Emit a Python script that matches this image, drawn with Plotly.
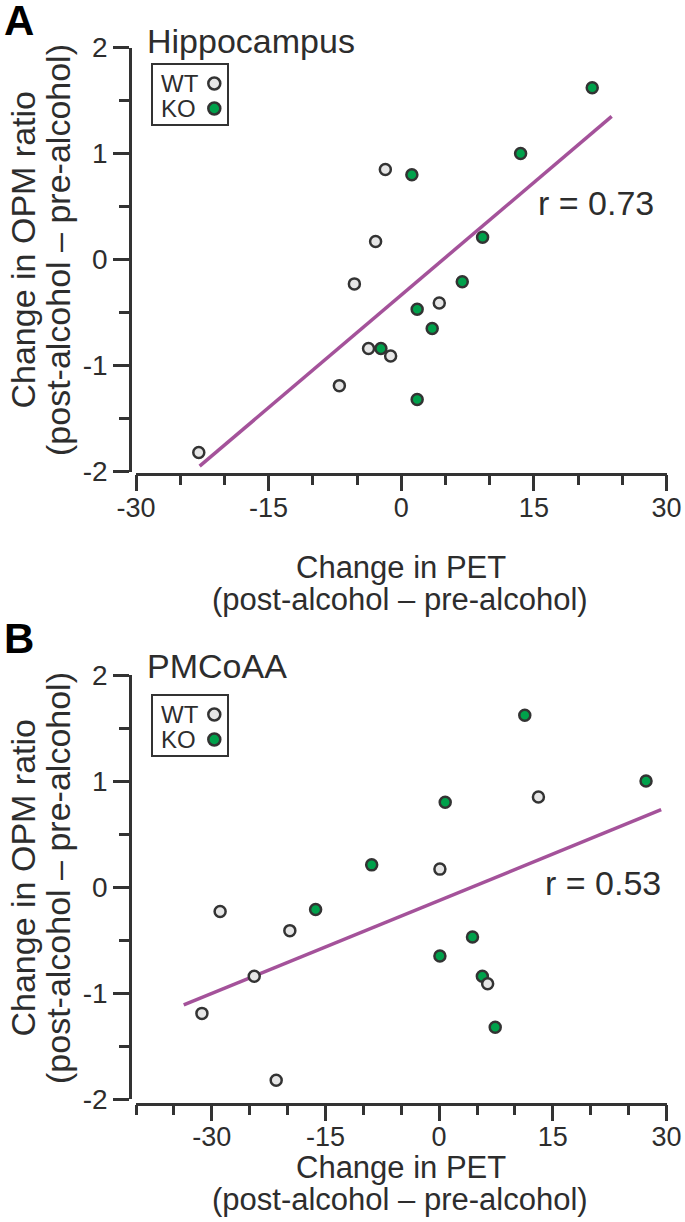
import plotly.graph_objects as go

W, H = 685, 1222

# ---------------- data ----------------
opm_wt = [0.85, 0.17, -0.23, -0.41, -0.84, -0.91, -1.19, -1.82]
opm_ko = [1.62, 1.00, 0.80, 0.21, -0.21, -0.47, -0.65, -0.84, -1.32]

pet_hippo_wt = [-1.8, -2.9, -5.3, 4.3, -3.7, -1.2, -7.0, -22.9]
pet_hippo_ko = [21.6, 13.5, 1.2, 9.2, 6.9, 1.8, 3.5, -2.3, 1.8]

pet_pmcoaa_wt = [13.1, 0.1, -28.9, -19.7, -24.4, 6.4, -31.3, -21.5]
pet_pmcoaa_ko = [11.3, 27.3, 0.8, -8.9, -16.3, 4.4, 0.1, 5.7, 7.4]

fit_hippo_x = [-22.8, 23.8]
fit_hippo_y = [-1.95, 1.35]
fit_pmcoaa_x = [-33.7, 29.3]
fit_pmcoaa_y = [-1.11, 0.73]

r_hippo = 0.73
r_pmcoaa = 0.53

x_ticks = [-30, -15, 0, 15, 30]
x_minor_hippo = [-25, -20, -10, -5, 5, 10, 20, 25]
x_minor_pmcoaa = [-40, -35, -25, -20, -10, -5, 5, 10, 20, 25]
y_ticks = [-2, -1, 0, 1, 2]
y_minor = [-1.5, -0.5, 0.5, 1.5]

region_names = ["Hippocampus", "PMCoAA"]
panel_letters = ["A", "B"]
group_names = ["WT", "KO"]

# ---------------- style ----------------
FONT = "Liberation Sans, Arial, Helvetica, sans-serif"
TXT = "#2d2d2d"
AX = "#333333"
WT_FILL = "#e6e6e6"
KO_FILL = "#00a14b"
FIT = "#a4529a"


def px(x):
    return x / W


def py(y):
    return 1 - y / H


fig = go.Figure()

panels = [
    dict(xa="x", ya="y", wt=pet_hippo_wt, ko=pet_hippo_ko, fx=fit_hippo_x, fy=fit_hippo_y),
    dict(xa="x2", ya="y2", wt=pet_pmcoaa_wt, ko=pet_pmcoaa_ko, fx=fit_pmcoaa_x, fy=fit_pmcoaa_y),
]

for p in panels:
    fig.add_trace(go.Scatter(x=p["fx"], y=p["fy"], mode="lines", xaxis=p["xa"], yaxis=p["ya"],
                             line=dict(color=FIT, width=3.5), showlegend=False, hoverinfo="skip"))
    fig.add_trace(go.Scatter(x=p["ko"], y=opm_ko, mode="markers", xaxis=p["xa"], yaxis=p["ya"],
                             name="KO", showlegend=False,
                             marker=dict(size=11, color=KO_FILL, line=dict(color=AX, width=2.5))))
    fig.add_trace(go.Scatter(x=p["wt"], y=opm_wt, mode="markers", xaxis=p["xa"], yaxis=p["ya"],
                             name="WT", showlegend=False,
                             marker=dict(size=11, color=WT_FILL, line=dict(color=AX, width=2.5))))


def xaxis_style(rng, minor_vals, pos):
    return dict(
        domain=[px(136), px(666.5)], range=rng, anchor="free", position=pos,
        showline=True, linecolor=AX, linewidth=2.5,
        ticks="outside", ticklen=16, tickwidth=2.5, tickcolor=AX,
        tickmode="array", tickvals=x_ticks, ticktext=[str(v) for v in x_ticks],
        tickfont=dict(family=FONT, size=27, color=TXT),
        minor=dict(tickmode="array", tickvals=minor_vals, ticks="outside", ticklen=10,
                   tickwidth=2.5, tickcolor=AX, showgrid=False),
        showgrid=False, zeroline=False, fixedrange=True,
    )


def yaxis_style(top_px, bot_px):
    return dict(
        domain=[py(bot_px), py(top_px)], range=[-2, 2], anchor="free", position=px(130),
        showline=True, linecolor=AX, linewidth=2.5,
        ticks="outside", ticklen=16, tickwidth=2.5, tickcolor=AX,
        tickmode="array", tickvals=y_ticks, ticktext=[str(v) for v in y_ticks],
        tickfont=dict(family=FONT, size=28, color=TXT),
        minor=dict(tickmode="array", tickvals=y_minor, ticks="outside", ticklen=10,
                   tickwidth=2.5, tickcolor=AX, showgrid=False),
        showgrid=False, zeroline=False, fixedrange=True,
    )


annotations = []
shapes = []

# panel geometry (pixel positions)
geo = [
    dict(ytop=47.5, ybot=471.5, xline=473.5, title_y=40.8, r_x=536, r_y=203,
         xt1=567, xt2=599, yt=250, leg_top=64, letter_y=21),
    dict(ytop=675, ybot=1099.3, xline=1103.5, title_y=665.5, r_x=543, r_y=882.5,
         xt1=1167.5, xt2=1199, yt=878, leg_top=695, letter_y=638),
]
r_vals = [r_hippo, r_pmcoaa]

for i, g in enumerate(geo):
    # panel letter
    annotations.append(dict(text=panel_letters[i], x=px(3), y=py(g["letter_y"]), xref="paper", yref="paper",
                            xanchor="left", yanchor="middle", showarrow=False, borderpad=0,
                            font=dict(family=FONT, size=42, color="#000000", weight="bold")))
    # region title
    annotations.append(dict(text=region_names[i], x=px(145), y=py(g["title_y"]), xref="paper", yref="paper",
                            xanchor="left", yanchor="middle", showarrow=False,
                            font=dict(family=FONT, size=34, color=TXT)))
    # r value
    annotations.append(dict(text=f"r = {r_vals[i]:.2f}", x=px(g["r_x"]), y=py(g["r_y"]), xref="paper",
                            yref="paper", xanchor="left", yanchor="middle", showarrow=False,
                            font=dict(family=FONT, size=34, color=TXT)))
    # x title
    annotations.append(dict(text="Change in PET", x=px(401), y=py(g["xt1"]), xref="paper", yref="paper",
                            xanchor="center", yanchor="middle", showarrow=False,
                            font=dict(family=FONT, size=31, color=TXT)))
    annotations.append(dict(text="(post-alcohol \u2013 pre-alcohol)", x=px(400), y=py(g["xt2"]), xref="paper",
                            yref="paper", xanchor="center", yanchor="middle", showarrow=False,
                            font=dict(family=FONT, size=31, color=TXT)))
    # y title
    annotations.append(dict(text="Change in OPM ratio", x=px(22.5), y=py(g["yt"]), xref="paper", yref="paper",
                            xanchor="center", yanchor="middle", textangle=-90, showarrow=False,
                            font=dict(family=FONT, size=34, color=TXT)))
    annotations.append(dict(text="(post-alcohol \u2013 pre-alcohol)", x=px(58), y=py(g["yt"]), xref="paper",
                            yref="paper", xanchor="center", yanchor="middle", textangle=-90, showarrow=False,
                            font=dict(family=FONT, size=34, color=TXT)))
    # legend box
    lt = g["leg_top"]
    shapes.append(dict(type="rect", xref="paper", yref="paper", x0=px(152), x1=px(228),
                       y0=py(lt + 61), y1=py(lt), line=dict(color=AX, width=2), fillcolor="white"))
    for k, (name, fill) in enumerate(zip(group_names, [WT_FILL, KO_FILL])):
        cy = lt + 19.5 + 25 * k
        annotations.append(dict(text=name, x=px(160), y=py(cy), xref="paper", yref="paper",
                                xanchor="left", yanchor="middle", showarrow=False, borderpad=0,
                                font=dict(family=FONT, size=24, color=TXT)))
        shapes.append(dict(type="circle", xref="paper", yref="paper", xsizemode="pixel", ysizemode="pixel",
                           xanchor=px(214.3), yanchor=py(cy), x0=-6, x1=6, y0=-6, y1=6,
                           fillcolor=fill, line=dict(color=AX, width=2.5)))

fig.update_layout(
    width=W, height=H, autosize=False,
    margin=dict(l=0, r=0, t=0, b=0, autoexpand=False),
    paper_bgcolor="white", plot_bgcolor="white",
    showlegend=False,
    xaxis=xaxis_style([-30, 30], x_minor_hippo, py(geo[0]["xline"])),
    yaxis=yaxis_style(geo[0]["ytop"], geo[0]["ybot"]),
    xaxis2=xaxis_style([-40, 30], x_minor_pmcoaa, py(geo[1]["xline"])),
    yaxis2=yaxis_style(geo[1]["ytop"], geo[1]["ybot"]),
    annotations=annotations,
    shapes=shapes,
)

# pull x tick labels a bit closer to the axis line
try:
    fig.update_layout(xaxis=dict(ticklabelstandoff=-7), xaxis2=dict(ticklabelstandoff=-8))
except Exception:
    pass

fig.write_html(
    "out.html",
    config={"displayModeBar": False},
    post_script="document.body.style.margin='0';document.body.style.padding='0';",
)
